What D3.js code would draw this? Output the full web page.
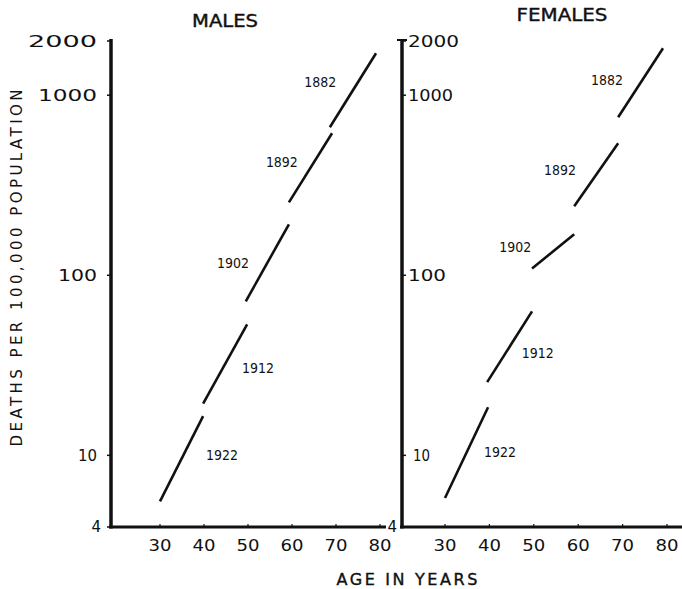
<!DOCTYPE html>
<html>
<head>
<meta charset="utf-8">
<script src="https://cdn.jsdelivr.net/npm/d3@7"></script>
<style>
  body { margin: 0; background: #fff; }
  text { font-family: "DejaVu Sans", sans-serif; fill: #111; }
</style>
</head>
<body>
<svg id="chart" width="682" height="589"></svg>
<script>
// cohort (year of birth) labels
const years = ["1882", "1892", "1902", "1912", "1922"];

// males: each cohort is a short segment, age range and death rate at both ends
const maleAgeFrom = [68.6, 59.3, 49.5, 39.8, 30];
const maleAgeTo = [79.1, 69.1, 59.3, 49.8, 39.8];
const maleRateFrom = [664, 254, 71.7, 19.4, 5.55];
const maleRateTo = [1711, 615, 192, 53.4, 16.5];
const maleLabelAge = [66.4, 57.7, 46.6, 52.3, 44.1];
const maleLabelRate = [1180, 425, 117, 30.4, 10];

// females
const femaleAgeFrom = [69.0, 59.1, 49.6, 39.5, 30];
const femaleAgeTo = [79.1, 69.0, 59.1, 49.6, 39.7];
const femaleRateFrom = [755, 242, 109, 25.5, 5.8];
const femaleRateTo = [1824, 541, 169, 63, 18.5];
const femaleLabelAge = [66.5, 55.9, 45.8, 50.9, 42.4];
const femaleLabelRate = [1212, 383, 143, 36.9, 10.4];

const ageTicks = [30, 40, 50, 60, 70, 80];
const rateTicks = [2000, 1000, 100, 10, 4];

const svg = d3.select("#chart");

let y = d3.scaleLog().domain([4, 2000]).range([527, 41]);

// plain text label, optionally squeezed/stretched to a given width
function label(g, x, yy, txt, size, anchor, width) {
  let t = g.append("text")
    .attr("x", x).attr("y", yy)
    .attr("text-anchor", anchor)
    .attr("dominant-baseline", "central")
    .style("font-size", size + "px")
    .text(txt);
  if (width) t.attr("textLength", width).attr("lengthAdjust", "spacingAndGlyphs");
  return t;
}

function panel(opts) {
  let g = svg.append("g");
  let x = d3.scaleLinear().domain([30, 80]).range(opts.xRange);

  // axes
  g.append("line")
    .attr("x1", opts.axisX).attr("x2", opts.axisX)
    .attr("y1", y(2000) - 2).attr("y2", y(4) + 1.5)
    .attr("stroke", "#111").attr("stroke-width", 3.5);
  g.append("line")
    .attr("x1", opts.axisX - 2).attr("x2", opts.xEnd)
    .attr("y1", y(4)).attr("y2", y(4))
    .attr("stroke", "#111").attr("stroke-width", 3);

  // small tick marks
  g.selectAll(".yt").data(rateTicks).enter().append("line")
    .attr("x1", opts.axisX).attr("x2", opts.axisX + opts.tickDir * 4)
    .attr("y1", d => y(d)).attr("y2", d => y(d))
    .attr("stroke", "#111").attr("stroke-width", 1.5);
  g.selectAll(".xt").data(ageTicks).enter().append("line")
    .attr("x1", d => x(d)).attr("x2", d => x(d))
    .attr("y1", y(4)).attr("y2", y(4) - 3)
    .attr("stroke", "#111").attr("stroke-width", 1.2);

  // tick labels
  rateTicks.forEach(function(d, i) {
    if (d === 4) {
      label(g, opts.fourX, y(d), d, 15, "end");
    } else {
      label(g, opts.labelX[i], y(d), d, 16, opts.labelAnchor, opts.labelWidth[i]);
    }
  });
  ageTicks.forEach(function(d) {
    label(g, x(d), 545, d, 16, "middle", 23);
  });

  // title
  label(g, opts.titleX, opts.titleY, opts.title, 17, "middle", opts.titleWidth)
    .style("stroke", "#111").style("stroke-width", 0.4);

  // cohort segments
  years.forEach(function(yr, i) {
    g.append("line")
      .attr("x1", x(opts.ageFrom[i])).attr("y1", y(opts.rateFrom[i]))
      .attr("x2", x(opts.ageTo[i])).attr("y2", y(opts.rateTo[i]))
      .attr("stroke", "#111").attr("stroke-width", 2.6);
    label(g, x(opts.labelAge[i]), y(opts.labelRate[i]), yr, 14, "middle", 32);
  });
}

panel({
  title: "MALES", titleX: 225, titleY: 21, titleWidth: 66,
  xRange: [160, 380], axisX: 111, xEnd: 386,
  tickDir: -1, labelX: [97, 97, 97, 97], labelAnchor: "end",
  labelWidth: [69, 59, 39, 19], fourX: 101,
  ageFrom: maleAgeFrom, ageTo: maleAgeTo, rateFrom: maleRateFrom, rateTo: maleRateTo,
  labelAge: maleLabelAge, labelRate: maleLabelRate
});

panel({
  title: "FEMALES", titleX: 562, titleY: 15, titleWidth: 91,
  xRange: [445, 667], axisX: 402, xEnd: 682,
  tickDir: 1, labelX: [408, 408, 408, 413], labelAnchor: "start",
  labelWidth: [51, 45, 38, 17], fourX: 397,
  ageFrom: femaleAgeFrom, ageTo: femaleAgeTo, rateFrom: femaleRateFrom, rateTo: femaleRateTo,
  labelAge: femaleLabelAge, labelRate: femaleLabelRate
});

// T cap on top of right axis
svg.append("line")
  .attr("x1", 397).attr("x2", 407).attr("y1", y(2000) - 1).attr("y2", y(2000) - 1)
  .attr("stroke", "#111").attr("stroke-width", 2);

// axis titles
svg.append("text")
  .attr("transform", "translate(17,268) rotate(-90)")
  .attr("text-anchor", "middle")
  .attr("dominant-baseline", "central")
  .attr("textLength", 357)
  .attr("lengthAdjust", "spacing")
  .style("font-size", "15px")
  .text("DEATHS PER 100,000 POPULATION");

svg.append("text")
  .attr("x", 407).attr("y", 579)
  .attr("text-anchor", "middle")
  .attr("dominant-baseline", "central")
  .attr("textLength", 141)
  .attr("lengthAdjust", "spacing")
  .style("font-size", "16px")
  .style("stroke", "#111").style("stroke-width", 0.4)
  .text("AGE IN YEARS");
</script>
</body>
</html>
